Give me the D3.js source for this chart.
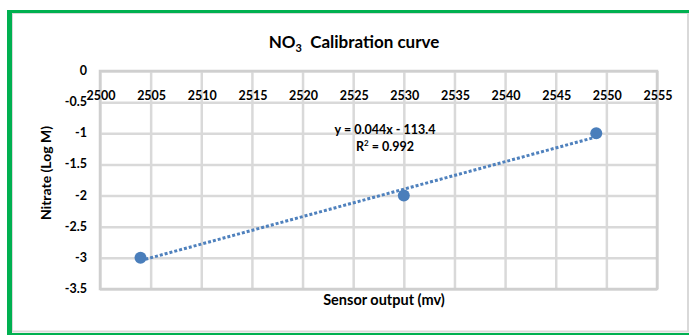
<!DOCTYPE html>
<html lang="en">

<head>
    <meta charset="UTF-8">
    <title>NO3 Calibration curve</title>
    <script src="https://d3js.org/d3.v7.min.js"></script>
    <style>
        body {
            margin: 0;
            background: #fff;
        }

        svg text {
            font-family: Lato, "Open Sans", sans-serif;
            font-weight: bold;
            fill: #000;
        }
    </style>
</head>

<body>
    <svg id="chart"></svg>

    <script>
        // data
        const sensorOutput = [2504, 2530, 2549];
        const nitrateLog = [-3, -2, -1];
        const xTicks = [2500, 2505, 2510, 2515, 2520, 2525, 2530, 2535, 2540, 2545, 2550, 2555];
        const yTicks = [0, -0.5, -1, -1.5, -2, -2.5, -3, -3.5];

        const width = 689;
        const height = 335;

        const svg = d3.select("#chart").attr("width", width).attr("height", height);

        // plot area
        const plotLeft = 100, plotRight = 657, plotTop = 71, plotBottom = 289;

        const x = d3.scaleLinear().domain([2500, 2555]).range([plotLeft, plotRight]);
        const y = d3.scaleLinear().domain([0, -3.5]).range([plotTop, plotBottom]);

        // outer frame: thin gray chart border + green outline
        svg.append("rect")
            .attr("x", 12).attr("y", 13)
            .attr("width", 676).attr("height", 318.5)
            .attr("fill", "none")
            .attr("stroke", "#d9d9d9")
            .attr("stroke-width", 2);

        svg.append("rect").attr("x", 7).attr("y", 10).attr("width", 5).attr("height", 325).attr("fill", "#00b050");
        svg.append("rect").attr("x", 7).attr("y", 10).attr("width", 682).attr("height", 3).attr("fill", "#00b050");
        svg.append("rect").attr("x", 7).attr("y", 333).attr("width", 682).attr("height", 2).attr("fill", "#00b050");

        // gridlines
        svg.append("g")
            .attr("transform", `translate(0,${plotBottom})`)
            .call(d3.axisBottom(x).tickValues(xTicks).tickSize(-(plotBottom - plotTop)).tickFormat(""))
            .call(g => g.select(".domain").remove())
            .call(g => g.selectAll("line").attr("stroke", "#d9d9d9").attr("stroke-width", 2.5));

        svg.append("g")
            .attr("transform", `translate(${plotLeft},0)`)
            .call(d3.axisLeft(y).tickValues(yTicks).tickSize(-(plotRight - plotLeft)).tickFormat(""))
            .call(g => g.select(".domain").remove())
            .call(g => g.selectAll("line").attr("stroke", "#d9d9d9").attr("stroke-width", 2.5));

        // plot border
        svg.append("rect")
            .attr("x", plotLeft).attr("y", plotTop)
            .attr("width", plotRight - plotLeft).attr("height", plotBottom - plotTop)
            .attr("fill", "none")
            .attr("stroke", "#cfcfcf")
            .attr("stroke-width", 2.5);

        // x tick labels sit just above the -0.5 line
        svg.append("g")
            .selectAll("text")
            .data(xTicks)
            .join("text")
            .attr("x", d => x(d) + 1)
            .attr("y", y(-0.5) - 2)
            .attr("text-anchor", "middle")
            .attr("font-size", "12.5px")
            .text(d => d);

        // y tick labels
        svg.append("g")
            .selectAll("text")
            .data(yTicks)
            .join("text")
            .attr("x", 87)
            .attr("y", d => y(d) + 4)
            .attr("text-anchor", "end")
            .attr("font-size", "12.5px")
            .text(d => d);

        // linear trendline (least squares)
        const mx = d3.mean(sensorOutput), my = d3.mean(nitrateLog);
        const sxy = d3.sum(sensorOutput, (v, i) => (v - mx) * (nitrateLog[i] - my));
        const sxx = d3.sum(sensorOutput, v => (v - mx) ** 2);
        const syy = d3.sum(nitrateLog, v => (v - my) ** 2);
        const slope = sxy / sxx;
        const intercept = my - slope * mx;
        const r2 = (sxy * sxy) / (sxx * syy);

        const xs = d3.extent(sensorOutput);
        svg.append("path")
            .datum(xs.map(v => [v, slope * v + intercept]))
            .attr("d", d3.line().x(d => x(d[0])).y(d => y(d[1])))
            .attr("fill", "none")
            .attr("stroke", "#4f81bd")
            .attr("stroke-width", 3)
            .attr("stroke-dasharray", "3,2");

        // points
        svg.append("g")
            .selectAll("circle")
            .data(sensorOutput)
            .join("circle")
            .attr("cx", d => x(d))
            .attr("cy", (d, i) => y(nitrateLog[i]))
            .attr("r", 6)
            .attr("fill", "#4a7ebb");

        // trendline equation
        svg.append("text")
            .attr("x", 385).attr("y", 134)
            .attr("text-anchor", "middle")
            .attr("font-size", "12.5px")
            .text(`y = ${slope.toFixed(3)}x - ${Math.abs(intercept).toFixed(1)}`);

        const r2Text = svg.append("text")
            .attr("x", 385).attr("y", 151)
            .attr("text-anchor", "middle")
            .attr("font-size", "12.5px");
        r2Text.append("tspan").text("R");
        r2Text.append("tspan").attr("dy", -5).attr("font-size", "8px").text("2");
        r2Text.append("tspan").attr("dy", 5).text(` = ${r2.toFixed(3)}`);

        // title
        const title = svg.append("text")
            .attr("x", 354).attr("y", 48)
            .attr("text-anchor", "middle")
            .attr("font-size", "17px");
        title.append("tspan").text("NO");
        title.append("tspan").attr("dy", 4).attr("font-size", "11px").text("3");
        title.append("tspan").attr("dy", -4).text("\u00a0 Calibration curve");

        // axis titles
        svg.append("text")
            .attr("x", 384).attr("y", 305)
            .attr("text-anchor", "middle")
            .attr("font-size", "14.5px")
            .text("Sensor output (mv)");

        svg.append("text")
            .attr("transform", "translate(51,173) rotate(-90)")
            .attr("text-anchor", "middle")
            .attr("font-size", "14px")
            .text("Nitrate (Log M)");
    </script>
</body>

</html>
